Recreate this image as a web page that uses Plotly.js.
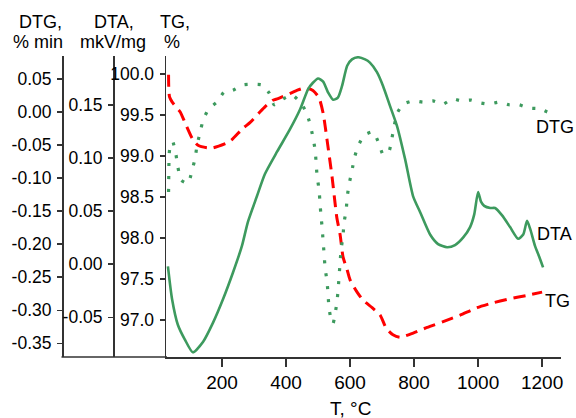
<!DOCTYPE html>
<html>
<head>
<meta charset="utf-8">
<script src="https://cdn.plot.ly/plotly-3.0.1.min.js"></script>
<style>html,body{margin:0;padding:0;background:#fff;}#chart{width:576px;height:418px;}</style>
</head>
<body>
<div id="chart"></div>
<script>
// Temperature (°C) and TG (%)
const tgT   = [33, 33.5, 36, 44, 56, 69, 84, 109, 125, 153, 172, 216, 231, 266, 288, 319, 334, 359, 375, 422, 434, 459, 484, 503, 516, 528, 544, 553, 559, 569, 578, 591, 600, 622, 641, 669, 694, 713, 734, 756, 797, 841, 891, 944, 997, 1047, 1100, 1153, 1200];
const tgVal = [99.99, 99.85, 99.72, 99.66, 99.60, 99.54, 99.41, 99.20, 99.13, 99.10, 99.10, 99.16, 99.20, 99.34, 99.41, 99.54, 99.60, 99.68, 99.70, 99.78, 99.80, 99.83, 99.80, 99.71, 99.52, 99.20, 98.74, 98.43, 98.24, 98.04, 97.77, 97.61, 97.49, 97.34, 97.24, 97.15, 97.06, 96.90, 96.82, 96.79, 96.84, 96.91, 96.98, 97.06, 97.15, 97.21, 97.26, 97.30, 97.34];

// DTA (mkV/mg)
const dtaT   = [31, 44, 62, 84, 109, 141, 172, 203, 234, 262, 281, 309, 334, 372, 412, 444, 469, 484, 500, 516, 531, 547, 562, 575, 591, 606, 625, 647, 662, 684, 703, 725, 747, 772, 797, 819, 850, 875, 903, 928, 953, 975, 988, 1000, 1009, 1019, 1038, 1053, 1075, 1100, 1125, 1141, 1153, 1163, 1178, 1191, 1203];
const dtaVal = [-0.002, -0.033, -0.057, -0.071, -0.083, -0.073, -0.055, -0.033, -0.008, 0.017, 0.040, 0.064, 0.085, 0.106, 0.127, 0.146, 0.165, 0.171, 0.175, 0.172, 0.162, 0.155, 0.157, 0.168, 0.187, 0.193, 0.195, 0.193, 0.190, 0.181, 0.168, 0.149, 0.130, 0.099, 0.064, 0.049, 0.028, 0.019, 0.016, 0.018, 0.025, 0.035, 0.047, 0.068, 0.059, 0.055, 0.053, 0.053, 0.046, 0.035, 0.024, 0.028, 0.041, 0.033, 0.017, 0.007, -0.003];

// DTG (% / min)
const dtgT   = [33, 33.5, 34, 35, 38, 46, 56, 62, 72, 94, 106, 116, 122, 131, 141, 159, 184, 206, 234, 266, 297, 325, 347, 363, 391, 419, 444, 463, 475, 484, 491, 494, 497, 503, 506, 509, 513, 516, 519, 522, 528, 531, 534, 541, 547, 553, 559, 563, 566, 569, 572, 578, 581, 588, 591, 597, 606, 613, 625, 644, 672, 688, 703, 722, 731, 738, 747, 766, 797, 828, 859, 891, 919, 947, 978, 1006, 1034, 1066, 1097, 1128, 1159, 1191, 1216];
const dtgVal = [-0.121, -0.102, -0.082, -0.063, -0.052, -0.045, -0.064, -0.083, -0.103, -0.108, -0.089, -0.070, -0.050, -0.032, -0.012, 0.005, 0.015, 0.030, 0.033, 0.041, 0.042, 0.041, 0.029, 0.011, 0.020, 0.026, 0.015, 0.000, -0.018, -0.038, -0.058, -0.077, -0.097, -0.117, -0.136, -0.156, -0.176, -0.197, -0.215, -0.236, -0.256, -0.274, -0.295, -0.315, -0.320, -0.306, -0.288, -0.267, -0.247, -0.227, -0.208, -0.188, -0.168, -0.148, -0.129, -0.109, -0.089, -0.070, -0.052, -0.035, -0.030, -0.045, -0.064, -0.059, -0.039, -0.021, -0.002, 0.012, 0.017, 0.015, 0.017, 0.012, 0.020, 0.017, 0.018, 0.014, 0.012, 0.015, 0.011, 0.011, 0.006, 0.005, 0.000];

// Tick labels
const xTicks   = [200, 400, 600, 800, 1000, 1200];
const tgTicks  = [97.0, 97.5, 98.0, 98.5, 99.0, 99.5, 100.0];
const tgLabels = ["97.0", "97.5", "98.0", "98.5", "99.0", "99.5", "100.0"];
const dtaTicks  = [-0.05, 0.00, 0.05, 0.10, 0.15];
const dtaLabels = ["-0.05", "0.00", "0.05", "0.10", "0.15"];
const dtgTicks  = [-0.35, -0.30, -0.25, -0.20, -0.15, -0.10, -0.05, 0.00, 0.05];
const dtgLabels = ["-0.35", "-0.30", "-0.25", "-0.20", "-0.15", "-0.10", "-0.05", "0.00", "0.05"];

const GREEN = '#3d9a5e';
const RED = '#ff0000';
const AX = '#333333';
const FONT = 'Liberation Sans, Arial, sans-serif';

// pixel helpers (plot area: x 0..561 with margin l=0, y 56..357)
const PW = 561, PT = 56, PB = 357, PH = PB - PT;
const px = v => v / PW;
const py = v => (PB - v) / PH;

const traces = [
  {x: dtgT, y: dtgVal, yaxis: 'y3', mode: 'lines', line: {color: GREEN, width: 3.2, dash: '3px,10px', shape: 'spline', smoothing: 0.5}},
  {x: dtaT, y: dtaVal, yaxis: 'y2', mode: 'lines', line: {color: GREEN, width: 2.6, shape: 'spline', smoothing: 0.6}},
  {x: tgT, y: tgVal, yaxis: 'y', mode: 'lines', line: {color: RED, width: 3, dash: '12px,7px', shape: 'spline', smoothing: 0.6}}
];

const yCommon = {
  showgrid: false, zeroline: false, showline: true, linecolor: AX, linewidth: 1.5,
  ticks: 'outside', ticklen: 5, tickwidth: 1.5, tickcolor: AX, ticklabelstandoff: 2,
  tickfont: {family: FONT, size: 17.5, color: '#000'}, fixedrange: true
};

const layout = {
  width: 576, height: 418,
  margin: {l: 0, r: 15, t: PT, b: 418 - PB, pad: 0},
  paper_bgcolor: '#fff', plot_bgcolor: '#fff',
  showlegend: false,
  font: {family: FONT, color: '#000'},
  xaxis: {
    domain: [166 / PW, 1], range: [25, 1259],
    showgrid: false, zeroline: false, showline: true, linecolor: AX, linewidth: 1.5,
    ticks: 'outside', ticklen: 8, tickwidth: 1.5, tickcolor: AX,
    tickmode: 'array', tickvals: xTicks,
    tickfont: {family: FONT, size: 19, color: '#000'}
  },
  yaxis: Object.assign({}, yCommon, {
    range: [96.549, 100.2195], tickmode: 'array', tickvals: tgTicks, ticktext: tgLabels, anchor: 'x'
  }),
  yaxis2: Object.assign({}, yCommon, {
    range: [-0.0874, 0.1962], tickmode: 'array', tickvals: dtaTicks, ticktext: dtaLabels,
    overlaying: 'y', anchor: 'free', position: 113 / PW, side: 'left'
  }),
  yaxis3: Object.assign({}, yCommon, {
    range: [-0.3707, 0.0848], tickmode: 'array', tickvals: dtgTicks, ticktext: dtgLabels,
    overlaying: 'y', anchor: 'free', position: 62 / PW, side: 'left'
  }),
  shapes: [
    {type: 'line', xref: 'paper', yref: 'paper', x0: 61.5 / PW, x1: 167 / PW, y0: 0, y1: 0,
     line: {color: AX, width: 1.5}}
  ],
  annotations: [
    {text: 'DTG,', x: px(40), y: py(21.5)},
    {text: '% min', x: px(38), y: py(42.5)},
    {text: 'DTA,', x: px(114), y: py(21.5)},
    {text: 'mkV/mg', x: px(112.5), y: py(42.5)},
    {text: 'TG,', x: px(175.5), y: py(21.5)},
    {text: '%', x: px(171.5), y: py(42.5)},
    {text: 'DTG', x: px(555), y: py(127)},
    {text: 'DTA', x: px(554), y: py(234)},
    {text: 'TG', x: px(557), y: py(301)},
    {text: 'T, °C', x: px(350), y: py(408), font: {family: FONT, size: 19, color: '#000'}}
  ].map(a => Object.assign({xref: 'paper', yref: 'paper', xanchor: 'center', yanchor: 'middle',
    showarrow: false, font: {family: FONT, size: 18, color: '#000'}}, a))
};

Plotly.newPlot('chart', traces, layout, {staticPlot: true, displayModeBar: false});
</script>
</body>
</html>
